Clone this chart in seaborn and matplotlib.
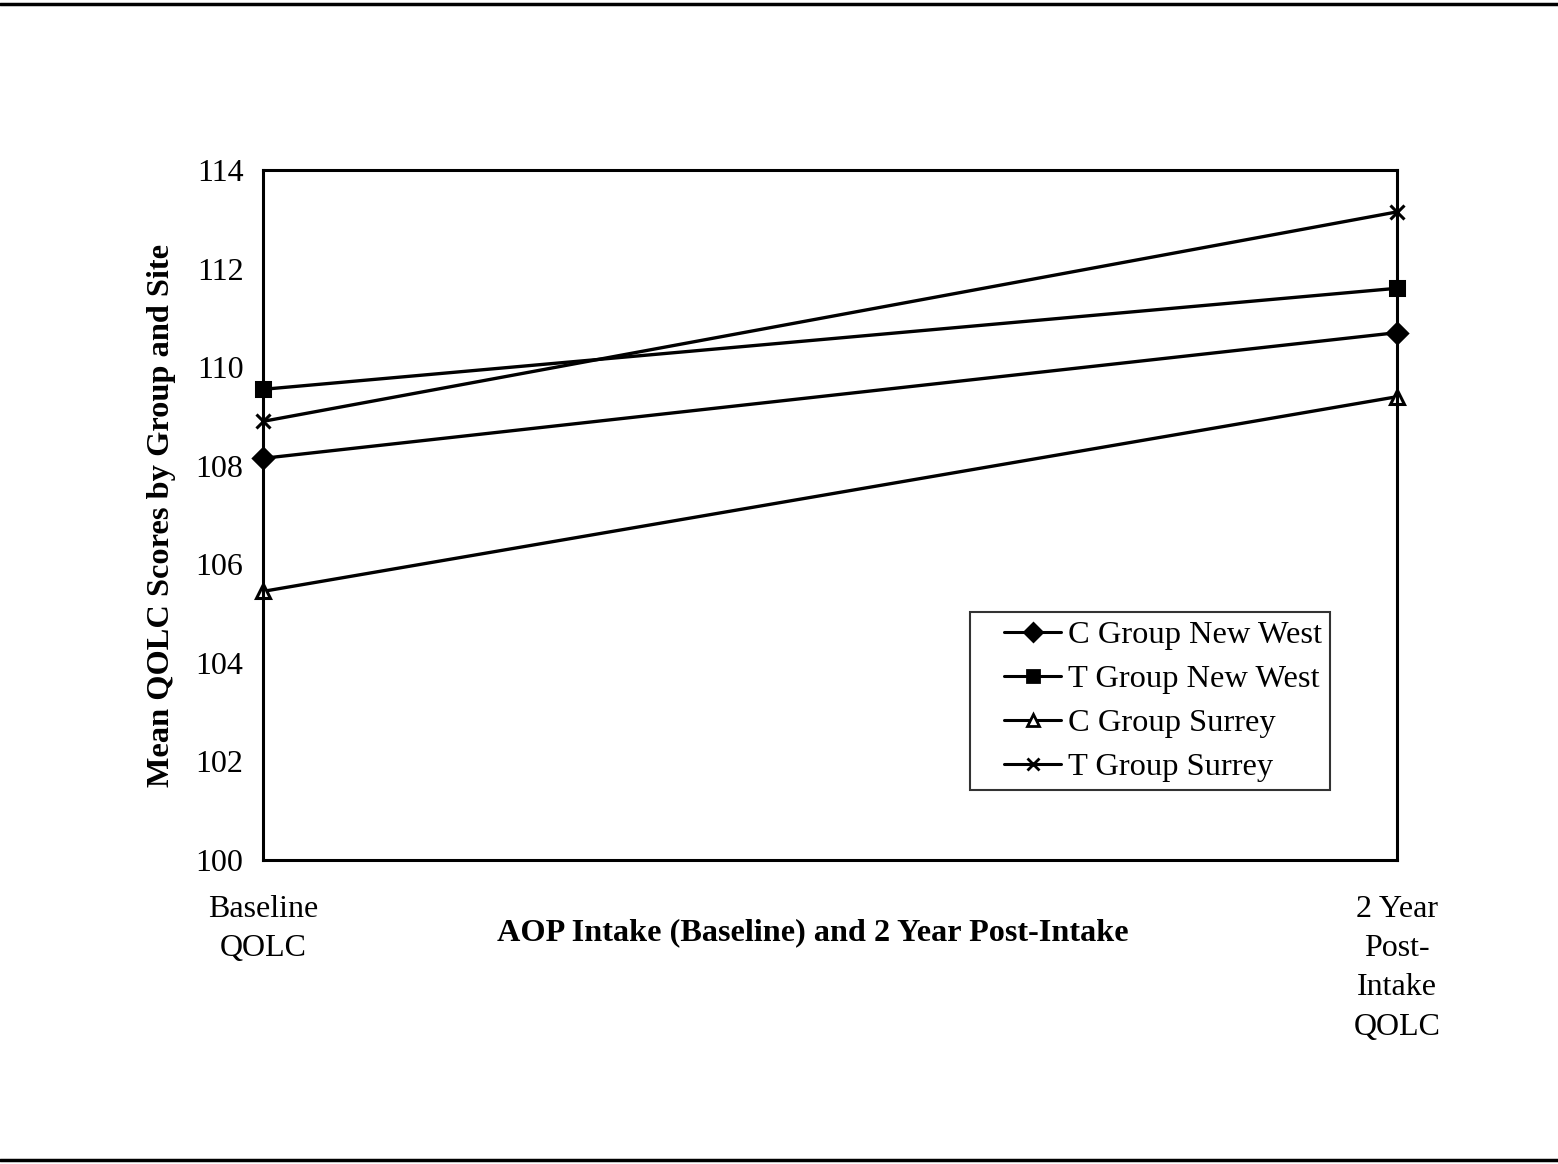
import matplotlib
matplotlib.use("Agg")
import matplotlib.pyplot as plt
import seaborn as sns
import pandas as pd
from matplotlib.lines import Line2D
from matplotlib.legend_handler import HandlerLine2D

# Mean QOLC scores at intake and two years later
time_points = [0, 1]
time_labels = ["Baseline\nQOLC", "2 Year\nPost-\nIntake\nQOLC"]
series_names = ["C Group New West", "T Group New West", "C Group Surrey", "T Group Surrey"]
c_new_west = [108.15, 110.7]
t_new_west = [109.55, 111.6]
c_surrey = [105.45, 109.4]
t_surrey = [108.9, 113.15]
y_ticks = [100, 102, 104, 106, 108, 110, 112, 114]

rows = []
for name, vals in zip(series_names, [c_new_west, t_new_west, c_surrey, t_surrey]):
    for t, v in zip(time_points, vals):
        rows.append({"time": t, "score": v, "series": name})
df = pd.DataFrame(rows)

sns.set_theme(style="white")
plt.rcParams["font.family"] = ["Liberation Serif", "DejaVu Serif"]
plt.rcParams["text.color"] = "black"
plt.rcParams["axes.labelcolor"] = "black"
plt.rcParams["xtick.color"] = "black"
plt.rcParams["ytick.color"] = "black"

fig = plt.figure(figsize=(15.58, 11.64), dpi=100)
ax = fig.add_axes([263 / 1558, 1 - 860 / 1164, (1397 - 263) / 1558, (860 - 170) / 1164])

markers = {"C Group New West": "D", "T Group New West": "s",
           "C Group Surrey": "^", "T Group Surrey": "x"}
for name in series_names:
    m = markers[name]
    sns.lineplot(data=df[df["series"] == name], x="time", y="score", color="black",
                 marker=m, markersize=10, markeredgewidth=2.2,
                 markerfacecolor="white" if m == "^" else "black",
                 markeredgecolor="black", linewidth=2.4, ax=ax, clip_on=False)

ax.set_xlim(0, 1)
ax.set_ylim(100, 114)
ax.set_yticks(y_ticks)
ax.set_yticklabels([str(v) for v in y_ticks], fontsize=23)
ax.set_xticks(time_points)
ax.set_xticklabels(time_labels, fontsize=23, linespacing=1.47)
ax.tick_params(axis="y", direction="inout", length=12, width=1.2, pad=8, colors="black")
ax.tick_params(axis="x", direction="out", length=8, width=1.6, pad=17, colors="black")
for side in ["left", "right", "top", "bottom"]:
    ax.spines[side].set_visible(True)
    ax.spines[side].set_color("black")
    ax.spines[side].set_linewidth(2.2)

ax.set_xlabel("")
ax.set_ylabel("Mean QOLC Scores by Group and Site", fontsize=23.3, fontweight="bold",
              labelpad=14, color="black")
ax.text(0.485, -0.106, "AOP Intake (Baseline) and 2 Year Post-Intake", transform=ax.transAxes,
        fontsize=23.2, fontweight="bold", ha="center", va="center", color="black")

handles = []
for name in series_names:
    m = markers[name]
    handles.append(Line2D([0], [0], color="black", linewidth=2.2, marker=m, markersize=9,
                          markeredgewidth=2, markerfacecolor="white" if m == "^" else "black",
                          markeredgecolor="black", label=name))
leg = ax.legend(handles=handles, loc="upper left", bbox_to_anchor=(0.6235, 0.359),
                fontsize=23.4, frameon=True, fancybox=False, edgecolor="black",
                handlelength=2.55, handletextpad=0.22, labelspacing=0.44,
                borderpad=0.25, borderaxespad=0,
                handler_map={Line2D: HandlerLine2D(xpad=0.8)})
leg.get_frame().set_linewidth(1.5)
for t in leg.get_texts():
    t.set_color("black")

# page rules above and below the chart
fig.add_artist(Line2D([0, 1], [1 - 4 / 1164, 1 - 4 / 1164], color="black", linewidth=2.5,
                      transform=fig.transFigure))
fig.add_artist(Line2D([0, 1], [1 - 1160 / 1164, 1 - 1160 / 1164], color="black", linewidth=2.5,
                      transform=fig.transFigure))

fig.savefig("out.png", dpi=100, facecolor="white")
